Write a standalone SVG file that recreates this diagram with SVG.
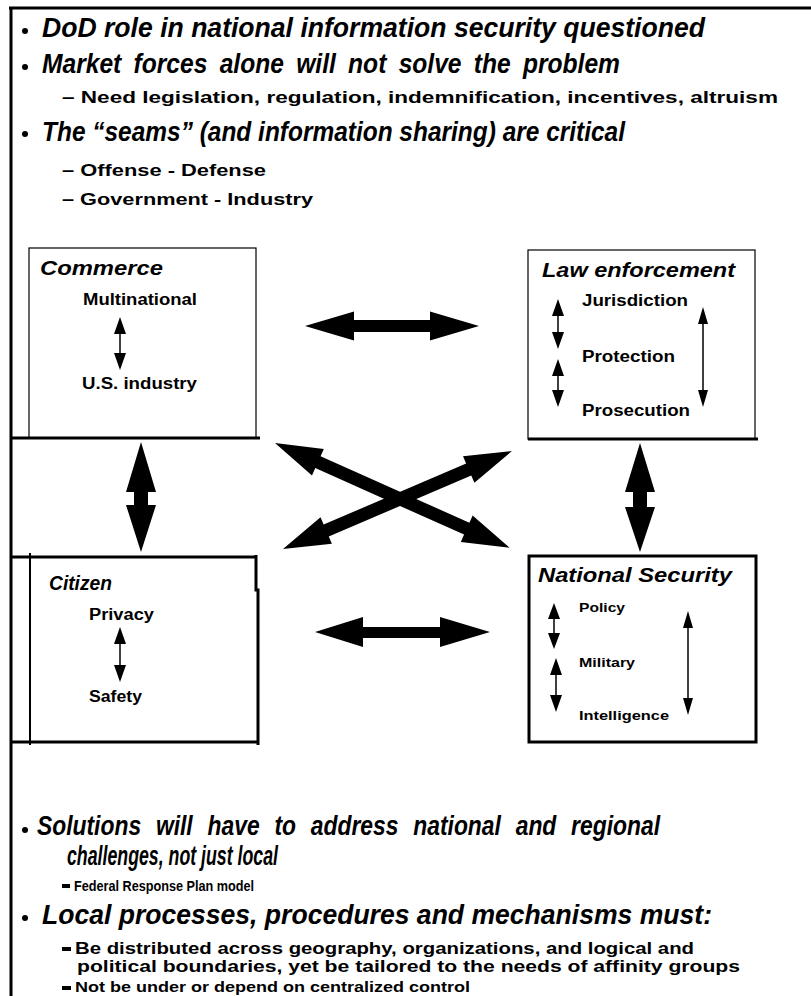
<svg xmlns="http://www.w3.org/2000/svg" width="811" height="996" viewBox="0 0 811 996">
<style>
.h{font-family:"Liberation Sans",Arial,sans-serif;font-weight:bold;font-style:italic;font-size:27px;fill:#000}
.s{font-family:"Liberation Sans",Arial,sans-serif;font-weight:bold;font-size:17px;fill:#000}
.bt{font-family:"Liberation Sans",Arial,sans-serif;font-weight:bold;font-style:italic;font-size:21px;fill:#000}
.bs{font-family:"Liberation Sans",Arial,sans-serif;font-weight:bold;font-size:16px;fill:#000}
.ns{font-family:"Liberation Sans",Arial,sans-serif;font-weight:bold;font-size:13px;fill:#000}
.thin{fill:none;stroke:#000;stroke-width:1.2}
.thick{fill:none;stroke:#000;stroke-width:3}
.big{fill:#000}
.sl{stroke:#000;stroke-width:1.5}
</style>
<rect width="811" height="996" fill="#fff"/>
<g id="frame">
<line x1="9" y1="8" x2="811" y2="8" class="thick"/>
<line x1="11" y1="7" x2="11" y2="996" class="thick"/>
</g>
<g id="top-text">
<circle cx="25" cy="31" r="3"/>
<text class="h" x="42" y="37" textLength="663" lengthAdjust="spacingAndGlyphs">DoD  role in national information security questioned</text>
<circle cx="25" cy="67" r="3"/>
<text class="h" x="42" y="73" textLength="578" lengthAdjust="spacingAndGlyphs" word-spacing="6">Market forces alone will not solve the problem</text>
<text class="s" x="62" y="103" textLength="716" lengthAdjust="spacingAndGlyphs">– Need legislation, regulation, indemnification, incentives, altruism</text>
<circle cx="25" cy="134" r="3"/>
<text class="h" x="42" y="141" textLength="583" lengthAdjust="spacingAndGlyphs">The “seams” (and information sharing) are critical</text>
<text class="s" x="62" y="176" textLength="204" lengthAdjust="spacingAndGlyphs">– Offense  - Defense</text>
<text class="s" x="62" y="205" textLength="251" lengthAdjust="spacingAndGlyphs">– Government  - Industry</text>
</g>
<g id="commerce">
<rect x="29" y="248" width="227" height="190" class="thin"/>
<line x1="12" y1="438" x2="260" y2="438" class="thick"/>
<text class="bt" x="40" y="275" textLength="123" lengthAdjust="spacingAndGlyphs">Commerce</text>
<text class="bs" x="83" y="305" textLength="114" lengthAdjust="spacingAndGlyphs">Multinational</text>
<text class="bs" x="82" y="389" textLength="115" lengthAdjust="spacingAndGlyphs">U.S. industry</text>
<line x1="120" y1="330" x2="120" y2="357" class="sl"/>
<path d="M120,317 L126,334 L114,334Z M120,370 L126,353 L114,353Z"/>
</g>
<g id="law-enforcement">
<rect x="528" y="250" width="227" height="189" class="thin"/>
<line x1="528" y1="439" x2="758" y2="439" class="thick"/>
<text class="bt" x="542" y="277" textLength="193" lengthAdjust="spacingAndGlyphs">Law enforcement</text>
<text class="bs" x="582" y="306" textLength="106" lengthAdjust="spacingAndGlyphs">Jurisdiction</text>
<text class="bs" x="582" y="362" textLength="93" lengthAdjust="spacingAndGlyphs">Protection</text>
<text class="bs" x="582" y="416" textLength="108" lengthAdjust="spacingAndGlyphs">Prosecution</text>
<line x1="558" y1="312" x2="558" y2="336" class="sl"/>
<path d="M558,299 L564,316 L552,316Z M558,349 L564,332 L552,332Z"/>
<line x1="558" y1="372" x2="558" y2="394" class="sl"/>
<path d="M558,359 L564,376 L552,376Z M558,407 L564,390 L552,390Z"/>
<line x1="703" y1="320" x2="703" y2="394" class="sl"/>
<path d="M703,307 L708,324 L698,324Z M703,407 L708,390 L698,390Z"/>
</g>
<g id="citizen">
<line x1="12" y1="557" x2="256" y2="557" class="thick"/>
<line x1="30" y1="553" x2="30" y2="745" stroke="#000" stroke-width="2"/>
<polyline points="256,555 256,590 258,590 258,745" class="thick"/>
<line x1="12" y1="742" x2="259" y2="742" class="thick"/>
<text class="bt" x="49" y="590" textLength="63" lengthAdjust="spacingAndGlyphs">Citizen</text>
<text class="bs" x="89" y="620" textLength="65" lengthAdjust="spacingAndGlyphs">Privacy</text>
<text class="bs" x="89" y="702" textLength="53" lengthAdjust="spacingAndGlyphs">Safety</text>
<line x1="120" y1="640" x2="120" y2="669" class="sl"/>
<path d="M120,627 L126,644 L114,644Z M120,682 L126,665 L114,665Z"/>
</g>
<g id="national-security">
<rect x="529" y="556" width="227" height="186" class="thick"/>
<text class="bt" x="538" y="582" textLength="194" lengthAdjust="spacingAndGlyphs">National Security</text>
<text class="ns" x="579" y="612" textLength="46" lengthAdjust="spacingAndGlyphs">Policy</text>
<text class="ns" x="579" y="667" textLength="56" lengthAdjust="spacingAndGlyphs">Military</text>
<text class="ns" x="579" y="720" textLength="90" lengthAdjust="spacingAndGlyphs">Intelligence</text>
<line x1="554" y1="616" x2="554" y2="636" class="sl"/>
<path d="M554,603 L560,619 L548,619Z M554,649 L560,633 L548,633Z"/>
<line x1="556" y1="671" x2="556" y2="699" class="sl"/>
<path d="M556,658 L562,675 L550,675Z M556,712 L562,695 L550,695Z"/>
<line x1="688" y1="624" x2="688" y2="702" class="sl"/>
<path d="M688,611 L693,628 L683,628Z M688,715 L693,698 L683,698Z"/>
</g>
<g id="connectors">
<polygon class="big" points="305,326 354,311.5 354,320 430,320 430,311.5 479,326 430,340.5 430,332 354,332 354,340.5"/>
<polygon class="big" points="315,632 363,617 363,627 440,627 440,617 490,632 440,647 440,638 363,638 363,647"/>
<polygon class="big" points="141,442 156,492 148,492 148,505 156,505 141,552 126,505 134,505 134,492 126,492"/>
<polygon class="big" points="640,443 655,492 647,492 647,507 655,507 640,552 625,507 633,507 633,492 625,492"/>
<polygon class="big" transform="translate(275,443) rotate(24.08)" points="0,0 47,-14.5 47,-6.5 210,-6.5 210,-14.5 257,0 210,14.5 210,6.5 47,6.5 47,14.5"/>
<polygon class="big" transform="translate(283,549) rotate(-23.17)" points="0,0 47,-14.5 47,-6.5 202,-6.5 202,-14.5 249,0 202,14.5 202,6.5 47,6.5 47,14.5"/>
</g>
<g id="bottom-text">
<circle cx="25" cy="830" r="3"/>
<text class="h" x="37" y="835" textLength="623" lengthAdjust="spacingAndGlyphs" word-spacing="10">Solutions will have to address national and regional</text>
<text class="h" x="67" y="865" textLength="211" lengthAdjust="spacingAndGlyphs">challenges, not just local</text>
<rect x="62" y="884" width="8" height="4"/>
<text class="s" x="74" y="891" textLength="180" lengthAdjust="spacingAndGlyphs" style="font-size:15px">Federal Response Plan model</text>
<circle cx="25" cy="918" r="3"/>
<text class="h" x="42" y="924" textLength="670" lengthAdjust="spacingAndGlyphs">Local processes, procedures and mechanisms must:</text>
<rect x="62" y="947" width="9" height="4"/>
<text class="s" x="75" y="954" textLength="619" lengthAdjust="spacingAndGlyphs">Be distributed across geography, organizations, and logical and</text>
<text class="s" x="77" y="972" textLength="663" lengthAdjust="spacingAndGlyphs" style="font-size:16px">political boundaries, yet be tailored to the needs of affinity groups</text>
<rect x="62" y="986" width="9" height="4"/>
<text class="s" x="75" y="992" textLength="395" lengthAdjust="spacingAndGlyphs" style="font-size:15px">Not be under or depend on centralized control</text>
</g>
</svg>
